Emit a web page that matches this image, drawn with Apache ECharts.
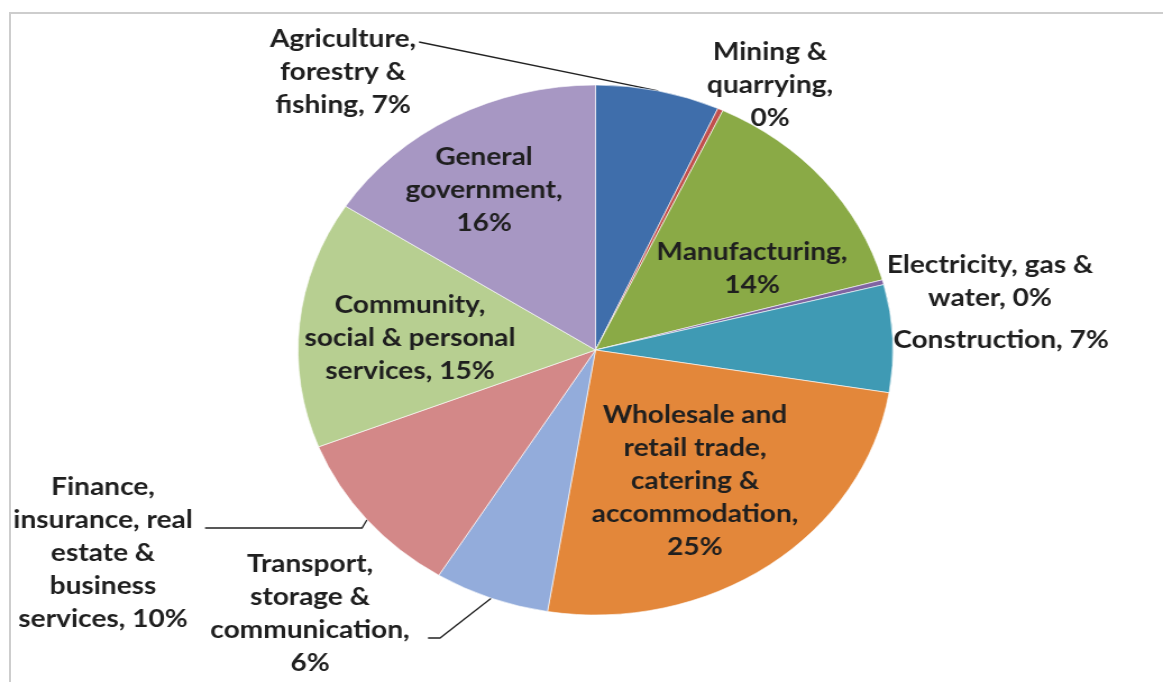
<!DOCTYPE html>
<html><head><meta charset="utf-8">
<script src="https://cdn.jsdelivr.net/npm/echarts@6/dist/echarts.min.js"></script>
<style>
html,body{margin:0;padding:0;background:#fff;overflow:hidden;width:1163px;height:682px;}
#frame{position:absolute;left:9px;top:12px;width:1300px;height:800px;border:2px solid #cdcdcd;box-sizing:border-box;}
#chart{position:absolute;left:0;top:0;width:1036px;height:682px;transform:scaleX(1.122587);transform-origin:0 0;}
</style></head><body>
<div id="frame"></div><div id="chart"></div>
<script>
// ---- data ----
const categories = [
  'Agriculture, forestry & fishing',
  'Mining & quarrying',
  'Manufacturing',
  'Electricity, gas & water',
  'Construction',
  'Wholesale and retail trade, catering & accommodation',
  'Transport, storage & communication',
  'Finance, insurance, real estate & business services',
  'Community, social & personal services',
  'General government'
];
const shares = [6.8, 0.3, 13.8, 0.3, 6.6, 25.2, 6.3, 10.3, 15.2, 16.0];
const labelTexts = [
  'Agriculture,\nforestry &\nfishing, {p}',
  'Mining &\nquarrying,\n{p}',
  'Manufacturing,\n{p}',
  'Electricity, gas &\nwater, {p}',
  'Construction, {p}',
  'Wholesale and\nretail trade,\ncatering &\naccommodation,\n{p}',
  'Transport,\nstorage &\ncommunication,\n{p}',
  'Finance,\ninsurance, real\nestate &\nbusiness\nservices, {p}',
  'Community,\nsocial & personal\nservices, {p}',
  'General\ngovernment,\n{p}'
];

// ---- styling / layout (not data) ----
const colors = ['#3f6eab','#c0504d','#8aaa46','#8064a2','#3f9ab4','#e3873a','#93acdb','#d38888','#b7cf91','#a797c3'];
const SX = 1163 / 1036;
const insideIdx = [2, 5, 8, 9];
const labelAt = [[343,72],[770,85],[752,268],[990,281],[1001,340],[695,481],[310,613],[103,553],[410,338],[484,190]];
const lineEnds = {0: [[419,42],[419,42]], 6: [[440,638],[428,638]], 7: [[362,528],[205,528]]};

const chart = echarts.init(document.getElementById('chart'), null, {renderer: 'canvas'});
chart.setOption({
  animation: false,
  backgroundColor: 'transparent',
  series: [{
    type: 'pie',
    center: [595.5 / SX, 350],
    radius: 265,
    startAngle: 90,
    clockwise: true,
    avoidLabelOverlap: false,
    emphasis: {disabled: true},
    itemStyle: {borderColor: 'rgba(255,255,255,0.6)', borderWidth: 1},
    label: {
      fontFamily: 'Lato',
      fontWeight: 'bold',
      fontSize: 25,
      lineHeight: 33,
      color: '#1f1f1f',
      formatter: p => labelTexts[p.dataIndex].replace('{p}', Math.round(p.percent) + '%')
    },
    labelLine: {lineStyle: {color: '#222', width: 1.3}, minTurnAngle: 0, maxSurfaceAngle: 180},
    labelLayout: function (p) {
      const i = p.dataIndex;
      const pos = labelAt[i];
      const r = {x: pos[0] / SX, y: pos[1], align: 'center', verticalAlign: 'middle'};
      if (lineEnds[i] && p.labelLinePoints) {
        r.labelLinePoints = [p.labelLinePoints[0]].concat(lineEnds[i].map(q => [q[0] / SX, q[1]]));
      }
      return r;
    },
    data: categories.map((n, i) => ({
      name: n,
      value: shares[i],
      itemStyle: {color: colors[i]},
      label: {position: insideIdx.indexOf(i) >= 0 ? 'inside' : 'outside'},
      labelLine: {show: !!lineEnds[i], length: 10, length2: 10, minTurnAngle: 0, maxSurfaceAngle: 180}
    }))
  }]
});
</script>
</body></html>
